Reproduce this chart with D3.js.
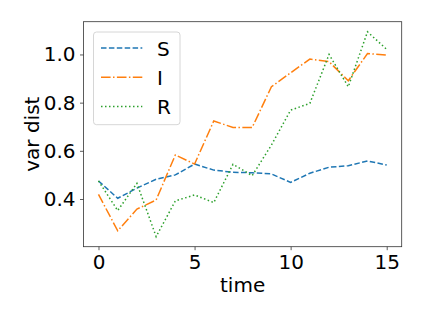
<!DOCTYPE html>
<html>
<head>
<meta charset="utf-8">
<script src="https://cdn.jsdelivr.net/npm/d3@7"></script>
<style>
  body { margin: 0; background: #fff; }
  svg text { font-family: "DejaVu Sans", sans-serif; fill: #000; }
</style>
</head>
<body>
<svg id="chart" width="423" height="317"></svg>
<script>
const times = d3.range(0, 16);
const sValues = [0.475, 0.403, 0.445, 0.482, 0.50, 0.545, 0.52, 0.511, 0.509, 0.504, 0.469, 0.507, 0.532, 0.538, 0.558, 0.541];
const iValues = [0.419, 0.268, 0.358, 0.396, 0.583, 0.545, 0.724, 0.697, 0.697, 0.866, 0.924, 0.981, 0.97, 0.891, 1.004, 0.997];
const rValues = [0.475, 0.352, 0.465, 0.244, 0.392, 0.417, 0.385, 0.544, 0.497, 0.624, 0.769, 0.797, 1.0, 0.866, 1.094, 1.021];
const xTicks = [0, 5, 10, 15];
const yTicks = [0.4, 0.6, 0.8, 1.0];

const series = [
    { name: "S", values: sValues, color: "#1f77b4", dash: "5.5,2.4" },
    { name: "I", values: iValues, color: "#ff7f0e", dash: "9.6,2.4,1.5,2.4" },
    { name: "R", values: rValues, color: "#2ca02c", dash: "1.5,2.5" }
];

const svg = d3.select("#chart");
const plotLeft = 83.5, plotRight = 401.7, plotTop = 21.7, plotBottom = 246.7;

const x = d3.scaleLinear().domain([-0.78, 15.78]).range([plotLeft, plotRight]);
const y = d3.scaleLinear().domain([0.202, 1.136]).range([plotBottom, plotTop]);

// axes
const xAxis = svg.append("g")
    .attr("transform", `translate(0,${plotBottom})`)
    .call(d3.axisBottom(x).tickValues(xTicks).tickFormat(d3.format("d")).tickSize(3.5).tickPadding(5));
const yAxis = svg.append("g")
    .attr("transform", `translate(${plotLeft},0)`)
    .call(d3.axisLeft(y).tickValues(yTicks).tickFormat(d3.format(".1f")).tickSize(3.5).tickPadding(4.5));

[xAxis, yAxis].forEach(a => {
    a.select(".domain").remove();
    a.selectAll("line").attr("stroke", "#333").attr("stroke-width", 0.8);
    a.selectAll("text").style("font-size", "20px").attr("fill", "#000");
});

// lines
const line = d3.line()
    .x((d, i) => x(times[i]))
    .y(d => y(d));

svg.append("g").selectAll("path")
    .data(series)
    .join("path")
    .attr("d", d => line(d.values))
    .attr("fill", "none")
    .attr("stroke", d => d.color)
    .attr("stroke-width", 1.5)
    .attr("stroke-dasharray", d => d.dash);

// frame
svg.append("rect")
    .attr("x", plotLeft).attr("y", plotTop)
    .attr("width", plotRight - plotLeft).attr("height", plotBottom - plotTop)
    .attr("fill", "none")
    .attr("stroke", "#333")
    .attr("stroke-width", 0.8);

// axis labels
svg.append("text")
    .attr("x", (plotLeft + plotRight) / 2).attr("y", 291.5)
    .attr("text-anchor", "middle")
    .style("font-size", "20px")
    .text("time");

svg.append("text")
    .attr("transform", `translate(38.5,${(plotTop + plotBottom) / 2}) rotate(-90)`)
    .attr("text-anchor", "middle")
    .style("font-size", "20px")
    .text("var dist");

// legend
const legend = svg.append("g");
legend.append("rect")
    .attr("x", 93.5).attr("y", 32)
    .attr("width", 86.5).attr("height", 92.7)
    .attr("rx", 3)
    .attr("fill", "#fff").attr("fill-opacity", 0.8)
    .attr("stroke", "#ccc").attr("stroke-width", 0.8);

const rows = legend.selectAll("g.row")
    .data(series)
    .join("g")
    .attr("class", "row")
    .attr("transform", (d, i) => `translate(0,${48 + i * 29.2})`);

rows.append("line")
    .attr("x1", 101).attr("x2", 142.3)
    .attr("stroke", d => d.color)
    .attr("stroke-width", 1.5)
    .attr("stroke-dasharray", d => d.dash);

rows.append("text")
    .attr("x", 157).attr("y", 7.5)
    .style("font-size", "20px")
    .text(d => d.name);
</script>
</body>
</html>
